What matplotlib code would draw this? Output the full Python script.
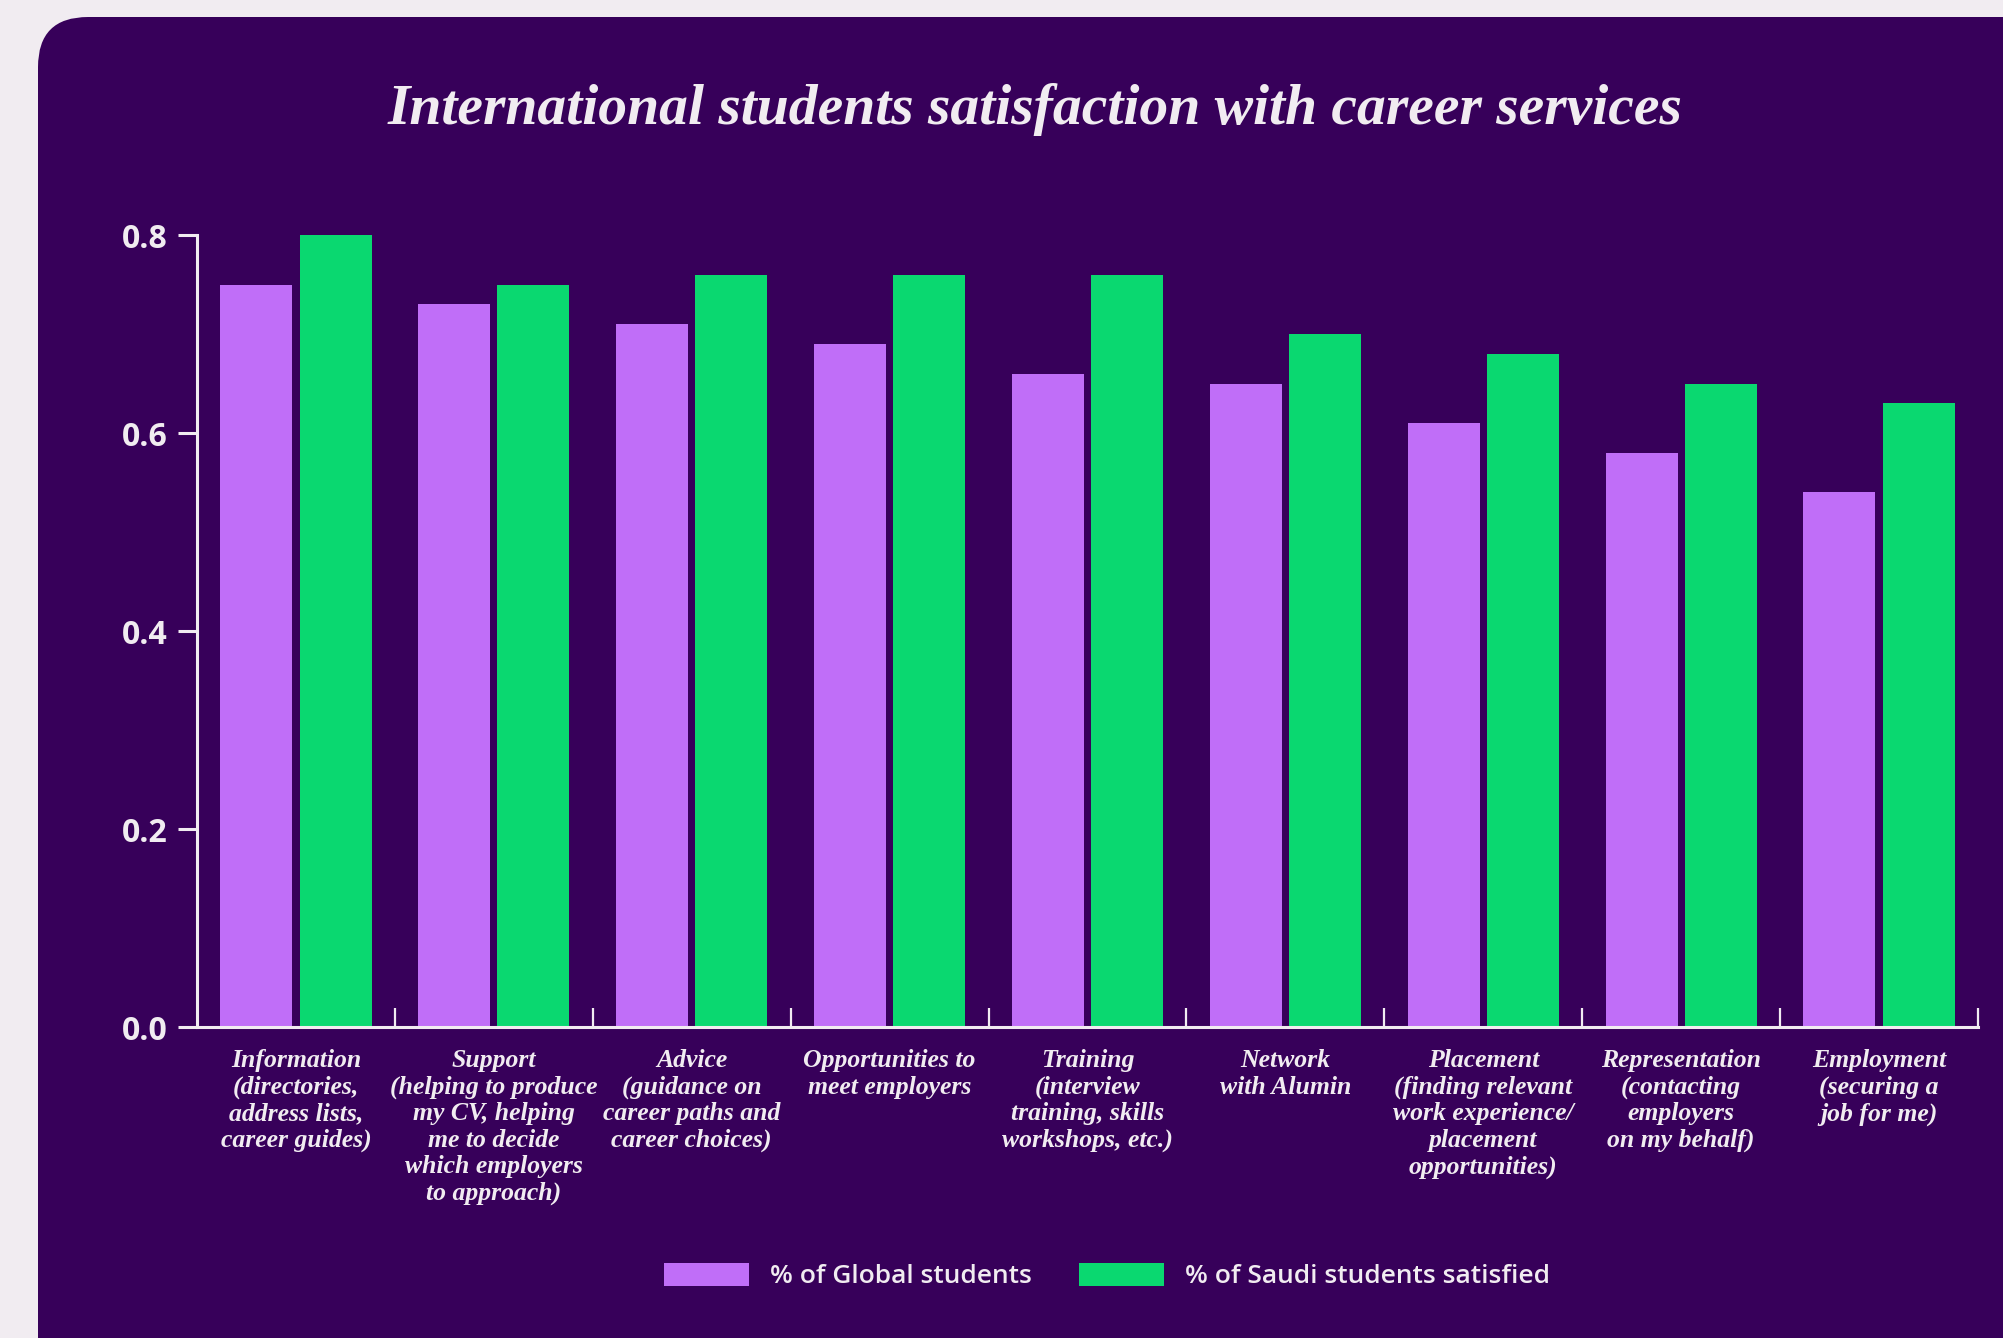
import numpy as np
import matplotlib
matplotlib.use("Agg")
import matplotlib.pyplot as plt
from matplotlib.patches import FancyBboxPatch, Patch

# ----------------------------------------------------------------- data --- #
categories = [
    "Information\n(directories,\naddress lists,\ncareer guides)",
    "Support\n(helping to produce\nmy CV, helping\nme to decide\nwhich employers\nto approach)",
    "Advice\n(guidance on\ncareer paths and\ncareer choices)",
    "Opportunities to\nmeet employers",
    "Training\n(interview\ntraining, skills\nworkshops, etc.)",
    "Network\nwith Alumin",
    "Placement\n(finding relevant\nwork experience/\nplacement\nopportunities)",
    "Representation\n(contacting\nemployers\non my behalf)",
    "Employment\n(securing a\njob for me)",
]
global_students = [0.75, 0.73, 0.71, 0.69, 0.66, 0.65, 0.61, 0.58, 0.54]
saudi_students = [0.80, 0.75, 0.76, 0.76, 0.76, 0.70, 0.68, 0.65, 0.63]
y_ticks = [0.0, 0.2, 0.4, 0.6, 0.8]
series_names = ["% of Global students", "% of Saudi students satisfied"]

# --------------------------------------------------------------- style --- #
PAGE = "#F1ECF1"
PANEL = "#37005A"
TEXT = "#F1ECF1"
PURPLE = "#C06EF8"
GREEN = "#0AD870"
W, H = 2003, 1338

fig = plt.figure(figsize=(W / 100, H / 100), dpi=100, facecolor=PAGE)

# rounded dark panel behind everything
bg = fig.add_axes([0, 0, 1, 1], zorder=-1)
bg.set_xlim(0, W)
bg.set_ylim(H, 0)
bg.axis("off")
bg.add_patch(FancyBboxPatch((38, 17), 2150 - 38, 1400 - 17,
                            boxstyle="round,pad=0,rounding_size=50",
                            facecolor=PANEL, edgecolor="none"))

# ---------------------------------------------------------------- bars --- #
x0, x1, ytop, ybot = 197, 1978, 235, 1027
ax = fig.add_axes([x0 / W, 1 - ybot / H, (x1 - x0) / W, (ybot - ytop) / H])
ax.set_facecolor("none")

x = np.arange(len(categories))
bw = 0.364
ax.bar(x - 0.2, global_students, width=bw, color=PURPLE, zorder=2)
ax.bar(x + 0.2, saudi_students, width=bw, color=GREEN, zorder=2)

ax.set_xlim(-0.5, len(categories) - 0.5)
ax.set_ylim(0, 0.8)

for s in ["top", "right"]:
    ax.spines[s].set_visible(False)
for s in ["left", "bottom"]:
    ax.spines[s].set_color(TEXT)
    ax.spines[s].set_linewidth(2.2)

ax.set_yticks(y_ticks)
ax.set_yticklabels([f"{v:.1f}" for v in y_ticks], family="Open Sans",
                   fontweight="bold", fontsize=23, color=TEXT)
ax.tick_params(axis="y", length=14, width=2.2, color=TEXT, pad=7)

# category labels on major ticks, separators on minor ticks
ax.set_xticks(x)
ax.set_xticklabels(categories, family="Liberation Serif", style="italic",
                   fontweight="bold", fontsize=18.5, color=TEXT,
                   linespacing=1.19, va="top")
ax.tick_params(axis="x", which="major", length=0, pad=16)
ax.set_xticks(x + 0.5, minor=True)
ax.tick_params(axis="x", which="minor", direction="in", length=14,
               width=1.6, color=TEXT)

# ---------------------------------------------------------------- text --- #
fig.text(1035 / W, 1 - 124 / H,
         "International students satisfaction with career services",
         ha="center", va="baseline", color=TEXT, fontsize=41.5,
         family="Liberation Serif", style="italic", fontweight="bold")

handles = [Patch(facecolor=PURPLE, edgecolor="none"),
           Patch(facecolor=GREEN, edgecolor="none")]
leg = fig.legend(handles, series_names, loc="center",
                 bbox_to_anchor=(1107 / W, 1 - 1276 / H), ncol=2,
                 frameon=False, handlelength=3.2, handleheight=1.0,
                 handletextpad=0.8, columnspacing=1.8,
                 prop={"family": "Open Sans", "size": 19, "weight": "semibold"})
for t in leg.get_texts():
    t.set_color(TEXT)

fig.savefig("out.png", dpi=100, facecolor=PAGE)
